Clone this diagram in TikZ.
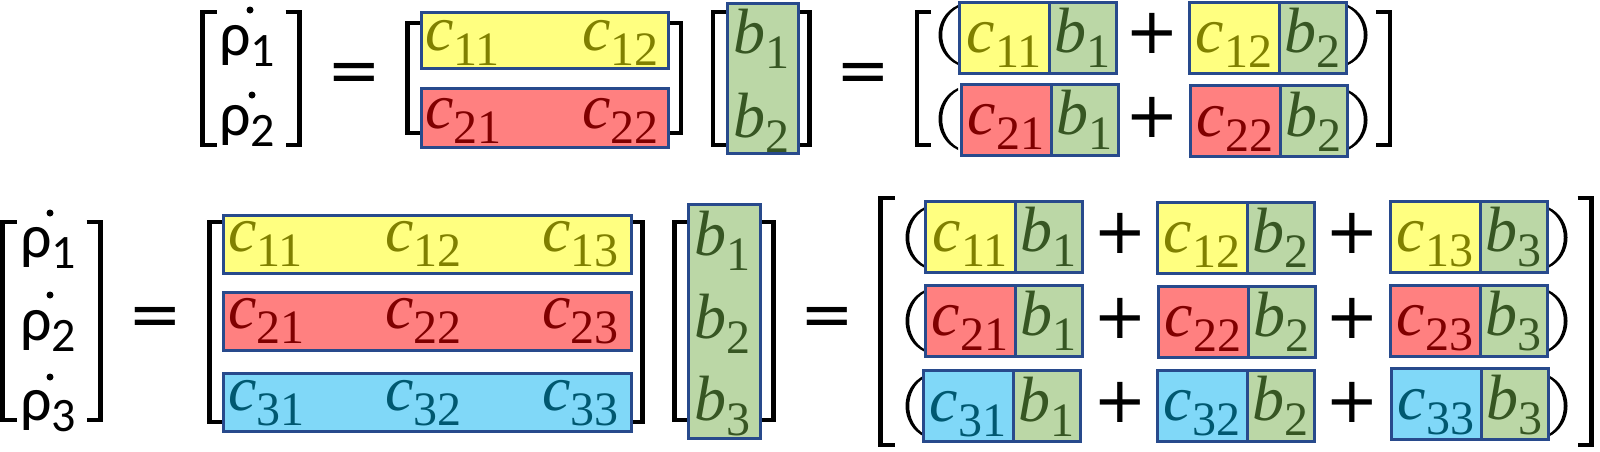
\documentclass[tikz,border=0pt]{standalone}
\usepackage{fontspec}
\setmainfont{Liberation Serif}
\newfontfamily\symfont{DejaVu Sans}
\newfontfamily\rhofont{Carlito}
\usetikzlibrary{positioning}

\definecolor{ylwfill}{RGB}{255,255,128}
\definecolor{redfill}{RGB}{255,128,128}
\definecolor{bluefill}{RGB}{128,216,248}
\definecolor{grnfill}{RGB}{187,215,166}
\definecolor{boxline}{RGB}{40,74,140}
\definecolor{ylwtext}{RGB}{128,128,0}
\definecolor{redtext}{RGB}{128,0,0}
\definecolor{bluetext}{RGB}{0,88,112}
\definecolor{grntext}{RGB}{55,86,35}

\newcommand{\cc}[1]{\textit{c}\raisebox{-15pt}{\fontsize{48}{48}\selectfont #1}}
\newcommand{\bb}[1]{\textit{b}\raisebox{-15pt}{\fontsize{48}{48}\selectfont #1}}
\newcommand{\rr}[1]{ρ\raisebox{-11pt}{\fontsize{48}{48}\selectfont #1}}
\newcommand{\brkL}[3]{\draw[brk] (#1+14,#2) -- (#1,#2) -- (#1,#3) -- (#1+14,#3);}
\newcommand{\brkR}[3]{\draw[brk] (#1-14,#2) -- (#1,#2) -- (#1,#3) -- (#1-14,#3);}
\newcommand{\parL}[3]{\fill (#1+20,#2) .. controls (#1-6,#2+12) and (#1-6,#3-12) .. (#1+20,#3)
    -- (#1+20,#3-2.5) .. controls (#1-1,#3-14) and (#1-1,#2+14) .. (#1+20,#2+2.5) -- cycle;}
\newcommand{\parR}[3]{\fill (#1-20,#2) .. controls (#1+6,#2+12) and (#1+6,#3-12) .. (#1-20,#3)
    -- (#1-20,#3-2.5) .. controls (#1+1,#3-14) and (#1+1,#2+14) .. (#1-20,#2+2.5) -- cycle;}

\begin{document}
\begin{tikzpicture}[x=1pt,y=-1pt,
    brk/.style={line width=4.5pt, line join=miter},
    rowbox/.style={draw=boxline, line width=3pt, inner sep=0pt, minimum height=58pt},
    cpart/.style={draw=boxline, line width=3pt, outer sep=0pt, inner sep=0pt,
        minimum width=90pt, minimum height=71pt, text height=45pt, text depth=15pt,
        font={\fontsize{64}{64}\selectfont}},
    bpart/.style={cpart, minimum width=67pt, fill=grnfill, text=grntext},
    yel/.style={fill=ylwfill, text=ylwtext},
    rd/.style={fill=redfill, text=redtext},
    bl/.style={fill=bluefill, text=bluetext},
    entry/.style={inner sep=0pt, anchor=base west, font={\fontsize{64}{64}\selectfont}},
    rho/.style={inner sep=0pt, anchor=base west, font={\rhofont\fontsize{62}{62}\selectfont}},
    op/.style={inner sep=0pt, font={\symfont\fontsize{64}{64}\selectfont}}]
\useasboundingbox (0,0) rectangle (1600,451);

% first equation
\brkL{202.5}{12}{145}
\brkR{299.5}{12}{145}
\node[rho] (rhoA1) at (219,55) {\rr{1}};
\node[rho] (rhoA2) at (219,135) {\rr{2}};
\fill (250,10) circle (3.5);
\fill (252,95) circle (3.5);
\node[op] (eqA1) at (354,78) {=};

\brkL{407.5}{23}{133}
\brkR{681}{23}{133}
\node[rowbox, yel, minimum width=247pt, minimum height=56pt] (matA1) at (544.5,40) {};
\node[rowbox, rd, minimum width=247pt, minimum height=59pt] (matA2) at (544.5,117.5) {};
\node[entry, text=ylwtext] (cA11) at (425,50) {\cc{11}};
\node[entry, text=ylwtext] (cA12) at (582,50) {\cc{12}};
\node[entry, text=redtext] (cA21) at (425,128) {\cc{21}};
\node[entry, text=redtext] (cA22) at (582,128) {\cc{22}};

\brkL{713}{12}{145}
\brkR{809.5}{12}{145}
\node[rowbox, fill=grnfill, minimum width=71pt, minimum height=150pt] (vecA) at (762.5,78) {};
\node[entry, text=grntext] (bA1) at (733,53) {\bb{1}};
\node[entry, text=grntext] (bA2) at (733,137) {\bb{2}};
\node[op] (eqA2) at (863,78) {=};

\brkL{917}{12}{145}
\brkR{1390}{12}{145}
\parL{938}{5}{65}
\parL{938}{88}{150}
\parR{1368}{5}{65}
\parR{1368}{90}{150}
\node[cpart, yel] (pA11c) at (1004,37.5) {\cc{11}};
\node[bpart, right=0pt of pA11c] (pA11b) {\bb{1}};
\node[cpart, yel] (pA12c) at (1234,37.5) {\cc{12}};
\node[bpart, right=0pt of pA12c] (pA12b) {\bb{2}};
\node[cpart, rd] (pA21c) at (1006,119.5) {\cc{21}};
\node[bpart, right=0pt of pA21c] (pA21b) {\bb{1}};
\node[cpart, rd] (pA22c) at (1235,121) {\cc{22}};
\node[bpart, right=0pt of pA22c] (pA22b) {\bb{2}};
\node[op] (plA1) at (1152,33) {+};
\node[op] (plA2) at (1152,117) {+};

% second equation
\brkL{2.5}{222}{420}
\brkR{100.5}{222}{420}
\node[rho] (rhoB1) at (20,257) {\rr{1}};
\node[rho] (rhoB2) at (20,340) {\rr{2}};
\node[rho] (rhoB3) at (20,420) {\rr{3}};
\fill (50,213) circle (3.5);
\fill (50,295) circle (3.5);
\fill (50,377) circle (3.5);
\node[op] (eqB1) at (155,322) {=};

\brkL{209.5}{222}{422}
\brkR{642.5}{222}{422}
\node[rowbox, yel, minimum width=408pt] (matB1) at (427,244) {};
\node[rowbox, rd, minimum width=408pt] (matB2) at (427,321) {};
\node[rowbox, bl, minimum width=408pt] (matB3) at (427,402.5) {};
\node[entry, text=ylwtext] (cB11) at (228,251) {\cc{11}};
\node[entry, text=ylwtext] (cB12) at (385,251) {\cc{12}};
\node[entry, text=ylwtext] (cB13) at (542,251) {\cc{13}};
\node[entry, text=redtext] (cB21) at (228,328) {\cc{21}};
\node[entry, text=redtext] (cB22) at (385,328) {\cc{22}};
\node[entry, text=redtext] (cB23) at (542,328) {\cc{23}};
\node[entry, text=bluetext] (cB31) at (228,410) {\cc{31}};
\node[entry, text=bluetext] (cB32) at (385,410) {\cc{32}};
\node[entry, text=bluetext] (cB33) at (542,410) {\cc{33}};

\brkL{674.5}{222}{420}
\brkR{773.5}{222}{420}
\node[rowbox, fill=grnfill, minimum width=72pt, minimum height=234pt] (vecB) at (724,321) {};
\node[entry, text=grntext] (bB1) at (694,255) {\bb{1}};
\node[entry, text=grntext] (bB2) at (694,338) {\bb{2}};
\node[entry, text=grntext] (bB3) at (694,420) {\bb{3}};
\node[op] (eqB2) at (827,322) {=};

\brkL{880.5}{198}{445}
\brkR{1591.5}{198}{445}
\parL{905}{207}{268}
\parL{905}{290}{352}
\parL{905}{375}{437}
\parR{1568}{207}{268}
\parR{1568}{290}{352}
\parR{1568}{375}{437}
\node[cpart, yel] (pB11c) at (970,236.5) {\cc{11}};
\node[bpart, right=0pt of pB11c] (pB11b) {\bb{1}};
\node[cpart, yel] (pB12c) at (1202,237.5) {\cc{12}};
\node[bpart, right=0pt of pB12c] (pB12b) {\bb{2}};
\node[cpart, yel] (pB13c) at (1435,236.5) {\cc{13}};
\node[bpart, right=0pt of pB13c] (pB13b) {\bb{3}};
\node[cpart, rd] (pB21c) at (970,320.5) {\cc{21}};
\node[bpart, right=0pt of pB21c] (pB21b) {\bb{1}};
\node[cpart, rd] (pB22c) at (1203,321.5) {\cc{22}};
\node[bpart, right=0pt of pB22c] (pB22b) {\bb{2}};
\node[cpart, rd] (pB23c) at (1435,320.5) {\cc{23}};
\node[bpart, right=0pt of pB23c] (pB23b) {\bb{3}};
\node[cpart, bl] (pB31c) at (968,406) {\cc{31}};
\node[bpart, right=0pt of pB31c] (pB31b) {\bb{1}};
\node[cpart, bl] (pB32c) at (1202,405.5) {\cc{32}};
\node[bpart, right=0pt of pB32c] (pB32b) {\bb{2}};
\node[cpart, bl] (pB33c) at (1436,404) {\cc{33}};
\node[bpart, right=0pt of pB33c] (pB33b) {\bb{3}};
\node[op] (plB11) at (1120,233) {+};
\node[op] (plB12) at (1352,233) {+};
\node[op] (plB21) at (1120,318) {+};
\node[op] (plB22) at (1352,318) {+};
\node[op] (plB31) at (1120,402) {+};
\node[op] (plB32) at (1352,402) {+};
\end{tikzpicture}
\end{document}
